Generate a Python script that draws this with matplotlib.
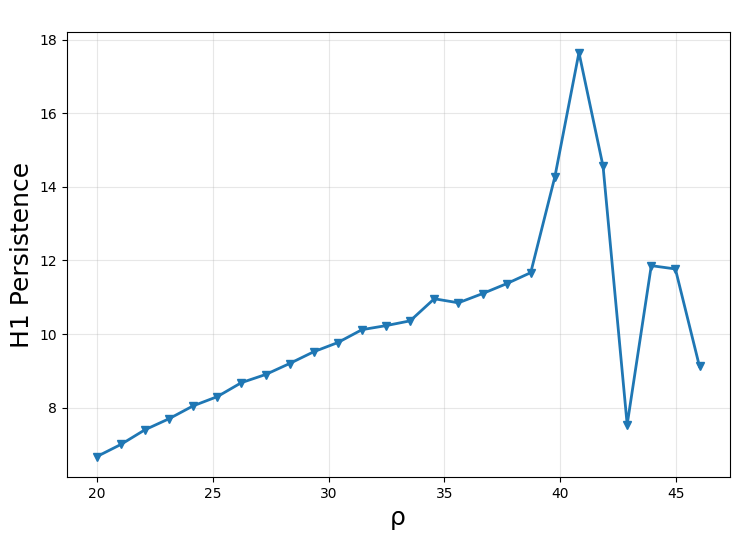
import matplotlib
matplotlib.use("Agg")
import matplotlib.pyplot as plt

# rho values and H1 persistence
rho = [20.0, 21.04, 22.08, 23.12, 24.16, 25.2, 26.24, 27.28, 28.32, 29.36,
       30.4, 31.44, 32.48, 33.52, 34.56, 35.6, 36.64, 37.68, 38.72, 39.76,
       40.8, 41.84, 42.88, 43.92, 44.96, 46.0]
persistence = [6.67, 7.0, 7.4, 7.7, 8.05, 8.3, 8.68, 8.9, 9.2, 9.52,
               9.77, 10.12, 10.23, 10.36, 10.96, 10.85, 11.1, 11.37, 11.67, 14.27,
               17.65, 14.56, 7.54, 11.86, 11.77, 9.12]

fig, ax = plt.subplots(figsize=(7.4, 5.4), dpi=100)
ax.plot(rho, persistence, marker='v', color='#1f77b4', linewidth=2, markersize=6)
ax.set_xlabel('ρ', fontsize=18)
ax.set_ylabel('H1 Persistence', fontsize=18)
ax.grid(True, alpha=0.3)
ax.set_xticks([20, 25, 30, 35, 40, 45])
ax.set_yticks([8, 10, 12, 14, 16, 18])

plt.subplots_adjust(left=0.09, right=0.986, top=0.94, bottom=0.117)
plt.savefig('out.png', dpi=100)
